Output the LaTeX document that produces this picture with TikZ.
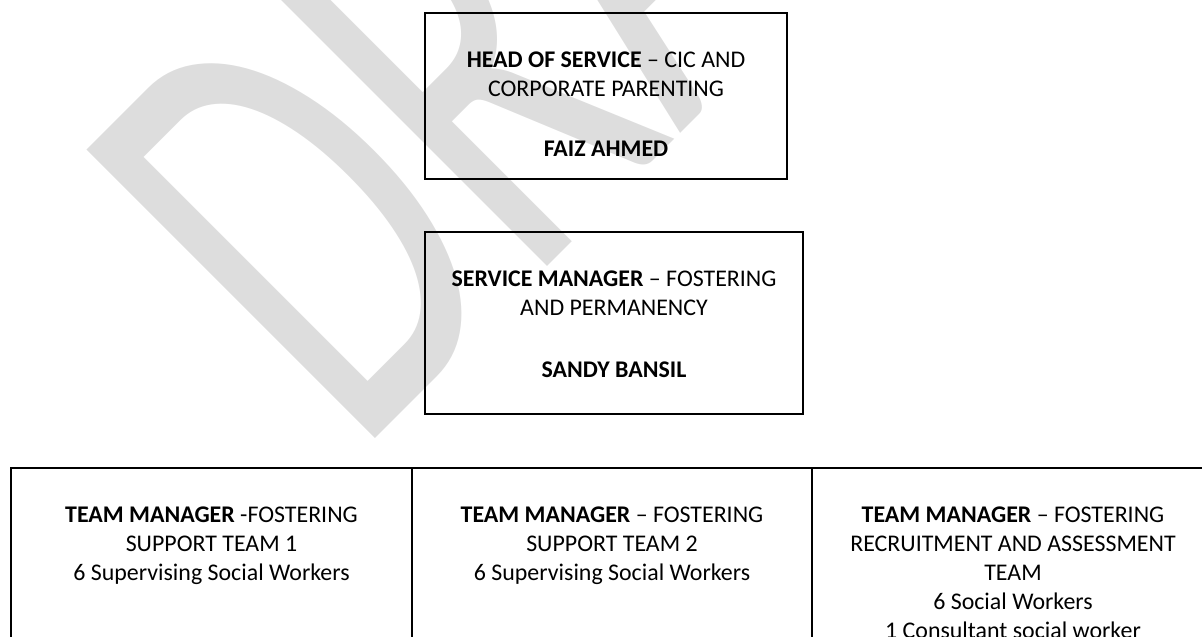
\documentclass[tikz,border=0pt]{standalone}
\usepackage{fontspec}
\setmainfont{Carlito}
\definecolor{wmgray}{RGB}{221,221,221}
\begin{document}
\begin{tikzpicture}[x=0.5pt,y=-0.5pt,
  box/.style={draw=black, line width=1pt, inner sep=0pt},
  txt/.style={anchor=base, inner sep=0pt, font=\fontsize{11.95}{14}\selectfont}]
\useasboundingbox (0,0) rectangle (1202,636);
\clip (0,0) rectangle (1202,636);

% watermark behind everything
\begin{scope}[shift={(356,458)}, rotate=45, xscale=0.62]
  \node[transform shape, anchor=base west, inner sep=0pt, text=wmgray,
        font=\fontsize{318}{318}\selectfont] (wm) {DRAFT};
\end{scope}

% head of service
\node[box, minimum width=181pt, minimum height=83pt] (head) at (606,96) {};
\node[txt] (head1) at (606,68) {\textbf{HEAD OF SERVICE} – CIC AND};
\node[txt] (head2) at (606,97) {CORPORATE PARENTING};
\node[txt] (head3) at (606,157) {\textbf{FAIZ AHMED}};

% service manager
\node[box, minimum width=189pt, minimum height=91pt] (serv) at (614,323) {};
\node[txt] (serv1) at (614,286.5) {\textbf{SERVICE MANAGER} – FOSTERING};
\node[txt] (serv2) at (614,315.5) {AND PERMANENCY};
\node[txt] (serv3) at (614,377) {\textbf{SANDY BANSIL}};

% team managers
\node[box, minimum width=200.5pt, minimum height=116pt] (teamA) at (211.5,584) {};
\node[box, minimum width=200pt, minimum height=116pt] (teamB) at (612,584) {};
\node[box, minimum width=201pt, minimum height=116pt] (teamC) at (1013,584) {};

\node[txt] (a1) at (211.5,522) {\textbf{TEAM MANAGER} -FOSTERING};
\node[txt] (a2) at (211.5,551) {SUPPORT TEAM 1};
\node[txt] (a3) at (211.5,580) {6 Supervising Social Workers};

\node[txt] (b1) at (612,522) {\textbf{TEAM MANAGER} – FOSTERING};
\node[txt] (b2) at (612,551) {SUPPORT TEAM 2};
\node[txt] (b3) at (612,580) {6 Supervising Social Workers};

\node[txt] (c1) at (1013,522) {\textbf{TEAM MANAGER} – FOSTERING};
\node[txt] (c2) at (1013,551) {RECRUITMENT AND ASSESSMENT};
\node[txt] (c3) at (1013,580) {TEAM};
\node[txt] (c4) at (1013,609) {6 Social Workers};
\node[txt] (c5) at (1013,638) {1 Consultant social worker};
\end{tikzpicture}
\end{document}
